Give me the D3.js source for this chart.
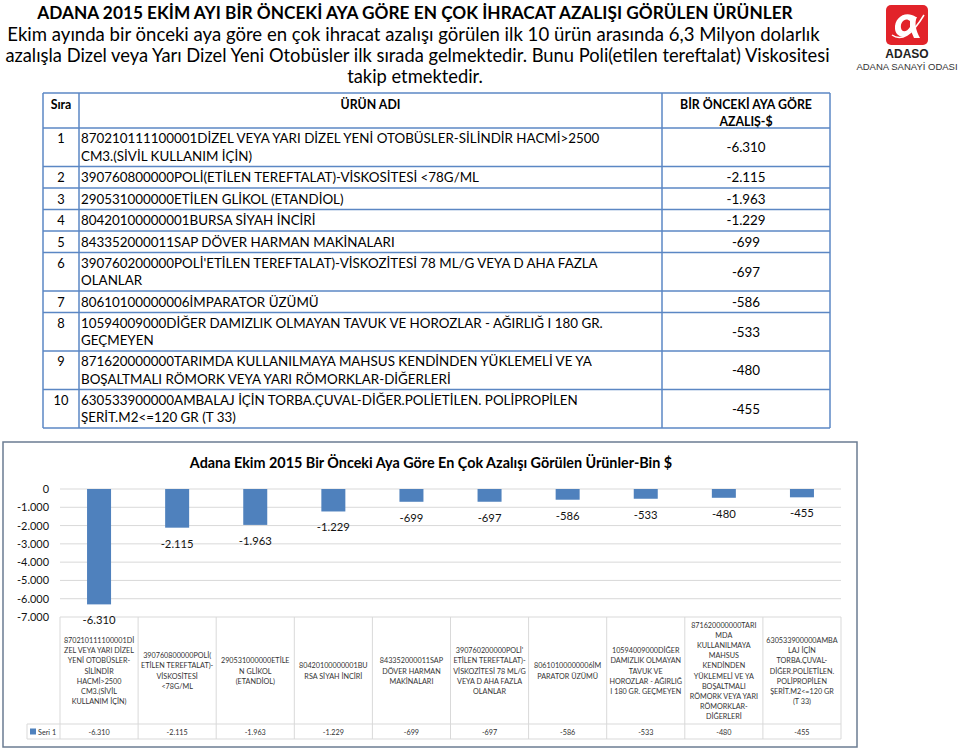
<!DOCTYPE html>
<html>
<head>
<meta charset="utf-8">
<script src="https://cdn.jsdelivr.net/npm/d3@7"></script>
<style>
  html, body { margin: 0; padding: 0; background: #fff; }
  svg { display: block; font-family: Lato, Carlito, "Open Sans", sans-serif; }
</style>
</head>
<body>
<div id="chart"></div>
<script>
// Header texts
const headLines = [
  'ADANA 2015 EKİM AYI BİR ÖNCEKİ AYA GÖRE EN ÇOK İHRACAT AZALIŞI GÖRÜLEN ÜRÜNLER',
  'Ekim ayında bir önceki aya göre en çok ihracat azalışı görülen ilk 10 ürün arasında 6,3 Milyon dolarlık',
  'azalışla Dizel veya Yarı Dizel Yeni Otobüsler ilk sırada gelmektedir. Bunu Poli(etilen tereftalat) Viskositesi',
  'takip etmektedir.'
];

// Table: rank, product name (as wrapped in the table), value
const ranks = [1, 2, 3, 4, 5, 6, 7, 8, 9, 10];
const tableNames = [
  ['870210111100001DİZEL VEYA YARI DİZEL YENİ OTOBÜSLER-SİLİNDİR HACMİ>2500', 'CM3.(SİVİL KULLANIM İÇİN)'],
  ['390760800000POLİ(ETİLEN TEREFTALAT)-VİSKOSİTESİ <78G/ML'],
  ['290531000000ETİLEN GLİKOL (ETANDİOL)'],
  ['80420100000001BURSA SİYAH İNCİRİ'],
  ['843352000011SAP DÖVER HARMAN MAKİNALARI'],
  ['390760200000POLİ\'ETİLEN TEREFTALAT)-VİSKOZİTESİ 78 ML/G VEYA D AHA FAZLA', 'OLANLAR'],
  ['80610100000006İMPARATOR ÜZÜMÜ'],
  ['10594009000DİĞER DAMIZLIK OLMAYAN TAVUK VE HOROZLAR - AĞIRLIĞ I 180 GR.', 'GEÇMEYEN'],
  ['871620000000TARIMDA KULLANILMAYA MAHSUS KENDİNDEN YÜKLEMELİ VE YA', 'BOŞALTMALI RÖMORK VEYA YARI RÖMORKLAR-DİĞERLERİ'],
  ['630533900000AMBALAJ İÇİN TORBA.ÇUVAL-DİĞER.POLİETİLEN. POLİPROPİLEN', 'ŞERİT.M2<=120 GR (T 33)']
];
const values = [-6310, -2115, -1963, -1229, -699, -697, -586, -533, -480, -455];

// Category labels as wrapped under the chart
const axisLabels = [
  ['870210111100001Dİ', 'ZEL VEYA YARI DİZEL', 'YENİ OTOBÜSLER-', 'SİLİNDİR', 'HACMİ>2500', 'CM3.(SİVİL', 'KULLANIM İÇİN)'],
  ['390760800000POLİ(', 'ETİLEN TEREFTALAT)-', 'VİSKOSİTESİ', '<78G/ML'],
  ['290531000000ETİLE', 'N GLİKOL', '(ETANDİOL)'],
  ['80420100000001BU', 'RSA SİYAH İNCİRİ'],
  ['843352000011SAP', 'DÖVER HARMAN', 'MAKİNALARI'],
  ['390760200000POLİ\'', 'ETİLEN TEREFTALAT)-', 'VİSKOZİTESİ 78 ML/G', 'VEYA D AHA FAZLA', 'OLANLAR'],
  ['80610100000006İM', 'PARATOR ÜZÜMÜ'],
  ['10594009000DİĞER', 'DAMIZLIK OLMAYAN', 'TAVUK VE', 'HOROZLAR - AĞIRLIĞ', 'I 180 GR. GEÇMEYEN'],
  ['871620000000TARI', 'MDA', 'KULLANILMAYA', 'MAHSUS', 'KENDİNDEN', 'YÜKLEMELİ VE YA', 'BOŞALTMALI', 'RÖMORK VEYA YARI', 'RÖMORKLAR-', 'DİĞERLERİ'],
  ['630533900000AMBA', 'LAJ İÇİN', 'TORBA.ÇUVAL-', 'DİĞER.POLİETİLEN.', 'POLİPROPİLEN', 'ŞERİT.M2<=120 GR', '(T 33)']
];
const yTicks = [0, -1000, -2000, -3000, -4000, -5000, -6000, -7000];
const seriesName = 'Seri 1';
const chartTitle = 'Adana Ekim 2015 Bir Önceki Aya Göre En Çok Azalışı Görülen Ürünler-Bin $';

const barColor = '#4f81bd';
const tableBlue = '#5b87c4';
const gridGray = '#d9d9d9';

// Turkish number format: dot as thousands separator
const trLocale = d3.formatLocale({ decimal: ',', thousands: '.', grouping: [3], currency: ['', ''], minus: '-' });
const fmt = trLocale.format(',d');

const W = 960, H = 753;
const svg = d3.select('#chart').append('svg')
  .attr('width', W)
  .attr('height', H);

// font size that makes a string span a given width (Calibri in the original is narrower than Lato)
function fitSize(str, targetW, weight) {
  const t = svg.append('text').style('font-size', '100px').style('font-weight', weight || 'normal').text(str);
  const w = t.node().getComputedTextLength();
  t.remove();
  return 100 * targetW / w;
}

// ---- Header ----
// [left, right] extent of each line in the original
const headSpan = [[37, 793], [7, 820], [5, 830], [343, 487]];
const headY = [19, 41, 62, 83];
const bodySize = fitSize(headLines[2], headSpan[2][1] - headSpan[2][0]);
headLines.forEach((t, i) => {
  const size = i === 0 ? fitSize(t, headSpan[0][1] - headSpan[0][0], 'bold')
    : i === 1 ? fitSize(t, headSpan[1][1] - headSpan[1][0]) : bodySize;
  svg.append('text')
    .attr('x', (headSpan[i][0] + headSpan[i][1]) / 2)
    .attr('y', headY[i])
    .attr('text-anchor', 'middle')
    .style('font-size', size + 'px')
    .style('font-weight', i === 0 ? 'bold' : 'normal')
    .style('fill', '#000')
    .text(t);
});

// ---- Logo ----
const logo = svg.append('g').attr('transform', 'translate(886,5)');
logo.append('rect')
  .attr('width', 42).attr('height', 40).attr('rx', 5)
  .style('fill', '#e2232a');
logo.append('path')
  .attr('d', 'M30,12 C20,5 8,12 9,24 C10,33 20,34 25,26 L28,33 L34,33 C30,26 28,18 31,12 Z M24,16 C20,12 14,16 15,23 C16,28 21,27 24,22 Z')
  .style('fill', '#fff')
  .style('fill-rule', 'evenodd');
logo.append('path')
  .attr('d', 'M6,30 Q20,40 38,10')
  .style('fill', 'none')
  .style('stroke', '#fff')
  .style('stroke-width', 1.5);
svg.append('text')
  .attr('x', 907).attr('y', 58)
  .attr('text-anchor', 'middle')
  .style('font-size', '12px').style('font-weight', 'bold')
  .style('font-family', '"Liberation Sans", Arial, sans-serif')
  .style('fill', '#222')
  .text('ADASO');
svg.append('text')
  .attr('x', 907).attr('y', 70)
  .attr('text-anchor', 'middle')
  .style('font-size', '9.5px')
  .style('font-family', '"Liberation Sans", Arial, sans-serif')
  .style('fill', '#333')
  .text('ADANA SANAYİ ODASI');

// ---- Table ----
const tX = [43, 79, 662, 830];
const tTop = 93, headH = 35;
const rowH = tableNames.map(l => l.length > 1 ? 38.5 : 21.5);
const rowTop = [];
let acc = tTop + headH;
rowH.forEach(h => { rowTop.push(acc); acc += h; });
const tBottom = acc;

const table = svg.append('g');
const thSize = fitSize('BİR ÖNCEKİ AYA GÖRE', 132, 'bold');
const tdSize = fitSize(tableNames[0][0], 519);
// header labels
table.append('text').attr('x', (tX[0] + tX[1]) / 2).attr('y', 109)
  .attr('text-anchor', 'middle').style('font-size', thSize + 'px').style('font-weight', 'bold').text('Sıra');
table.append('text').attr('x', (tX[1] + tX[2]) / 2).attr('y', 109)
  .attr('text-anchor', 'middle').style('font-size', thSize + 'px').style('font-weight', 'bold').text('ÜRÜN ADI');
table.append('text').attr('x', (tX[2] + tX[3]) / 2).attr('y', 109)
  .attr('text-anchor', 'middle').style('font-size', thSize + 'px').style('font-weight', 'bold').text('BİR ÖNCEKİ AYA GÖRE');
table.append('text').attr('x', (tX[2] + tX[3]) / 2).attr('y', 126)
  .attr('text-anchor', 'middle').style('font-size', thSize + 'px').style('font-weight', 'bold').text('AZALIŞ-$');

ranks.forEach((r, i) => {
  const top = rowTop[i], h = rowH[i];
  const lines = tableNames[i];
  const firstY = lines.length > 1 ? top + 15 : top + h / 2 + 5;
  table.append('text').attr('x', (tX[0] + tX[1]) / 2).attr('y', firstY)
    .attr('text-anchor', 'middle').style('font-size', (tdSize - 0.5) + 'px').text(r);
  lines.forEach((ln, j) => {
    table.append('text').attr('x', tX[1] + 2).attr('y', firstY + j * 17.5)
      .style('font-size', tdSize + 'px').text(ln);
  });
  table.append('text').attr('x', (tX[2] + tX[3]) / 2).attr('y', top + h / 2 + 5)
    .attr('text-anchor', 'middle').style('font-size', tdSize + 'px').text(fmt(values[i]));
});

// table grid
const hLines = [tTop, tTop + headH].concat(rowTop.slice(1)).concat([tBottom]);
table.selectAll('.hl').data(hLines).enter().append('line')
  .attr('x1', tX[0]).attr('x2', tX[3])
  .attr('y1', d => d).attr('y2', d => d)
  .style('stroke', tableBlue).style('stroke-width', 1.5);
table.selectAll('.vl').data(tX).enter().append('line')
  .attr('x1', d => d).attr('x2', d => d)
  .attr('y1', tTop).attr('y2', tBottom)
  .style('stroke', tableBlue).style('stroke-width', 1.5);

// ---- Chart ----
svg.append('rect')
  .attr('x', 3).attr('y', 442).attr('width', 854).attr('height', 305)
  .style('fill', '#fff').style('stroke', '#6b7c92').style('stroke-width', 1.5);

svg.append('text')
  .attr('x', 431).attr('y', 468)
  .attr('text-anchor', 'middle')
  .style('font-size', fitSize(chartTitle, 483, 'bold') + 'px').style('font-weight', 'bold')
  .text(chartTitle);

const plotL = 60, plotR = 841;
const x = d3.scaleBand().domain(d3.range(values.length)).range([plotL, plotR]).padding(0);
const y = d3.scaleLinear().domain([-7000, 0]).range([617, 489]);
const barW = 24;

// gridlines
svg.selectAll('.grid').data(yTicks).enter().append('line')
  .attr('x1', plotL).attr('x2', plotR)
  .attr('y1', d => y(d)).attr('y2', d => y(d))
  .style('stroke', gridGray).style('stroke-width', 1);

// y axis labels
const tickSize = fitSize('-7.000', 32);
const yAxis = d3.axisLeft(y).tickValues(yTicks).tickFormat(fmt).tickSize(0).tickPadding(0);
const yg = svg.append('g').attr('transform', 'translate(49,0)').call(yAxis);
yg.select('.domain').remove();
yg.selectAll('text')
  .style('font-family', 'Lato, Carlito, "Open Sans", sans-serif')
  .style('font-size', tickSize + 'px').style('fill', '#111');

// bars
svg.selectAll('.bar').data(values).enter().append('rect')
  .attr('x', (d, i) => x(i) + x.bandwidth() / 2 - barW / 2)
  .attr('y', y(0))
  .attr('width', barW)
  .attr('height', d => y(d) - y(0))
  .style('fill', barColor);

// data labels
const lblSize = fitSize('-6.310', 33);
svg.selectAll('.lbl').data(values).enter().append('text')
  .attr('x', (d, i) => x(i) + x.bandwidth() / 2)
  .attr('y', d => y(d) + 20)
  .attr('text-anchor', 'middle')
  .style('font-size', lblSize + 'px').style('fill', '#111')
  .text(d => fmt(d));

// data table under the chart
const dtTop = y(-7000), dtMid = 724, dtBot = 739, legL = 27;
const dt = svg.append('g');
d3.range(values.length + 1).forEach(i => {
  const xx = i < values.length ? x(i) : plotR;
  dt.append('line').attr('x1', xx).attr('x2', xx).attr('y1', dtTop).attr('y2', dtBot)
    .style('stroke', gridGray);
});
dt.append('line').attr('x1', legL).attr('x2', plotR).attr('y1', dtMid).attr('y2', dtMid).style('stroke', gridGray);
dt.append('line').attr('x1', legL).attr('x2', plotR).attr('y1', dtBot).attr('y2', dtBot).style('stroke', gridGray);
dt.append('line').attr('x1', legL).attr('x2', legL).attr('y1', dtMid).attr('y2', dtBot).style('stroke', gridGray);

const catSize = fitSize('ZEL VEYA YARI DİZEL', 70);
const lineH = 10.2;
axisLabels.forEach((lines, i) => {
  const cx = x(i) + x.bandwidth() / 2;
  const y0 = (dtTop + dtMid) / 2 - (lines.length - 1) * lineH / 2 + 3;
  lines.forEach((ln, j) => {
    dt.append('text').attr('x', cx).attr('y', y0 + j * lineH)
      .attr('text-anchor', 'middle')
      .style('font-size', catSize + 'px').style('fill', '#333')
      .text(ln);
  });
  dt.append('text').attr('x', cx).attr('y', dtBot - 4)
    .attr('text-anchor', 'middle')
    .style('font-size', catSize + 'px').style('fill', '#333')
    .text(fmt(values[i]));
});
dt.append('rect').attr('x', 30).attr('y', 728.5).attr('width', 6).attr('height', 6).style('fill', barColor);
dt.append('text').attr('x', 38).attr('y', dtBot - 4)
  .style('font-size', catSize + 'px').style('fill', '#333').text(seriesName);
</script>
</body>
</html>
